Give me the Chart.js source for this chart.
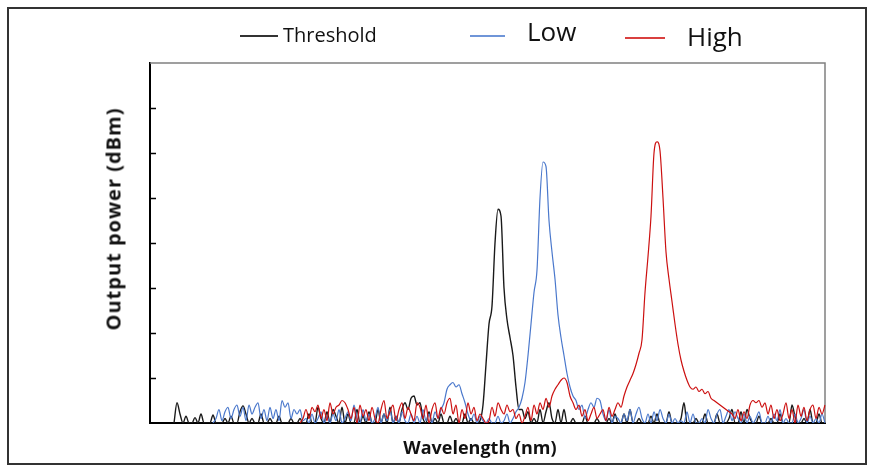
<!DOCTYPE html>
<html lang="en">
<head>
    <meta charset="UTF-8">
    <title>Output power vs wavelength</title>
    <script src="https://cdn.jsdelivr.net/npm/chart.js"></script>
    <style>
        body {
            margin: 0;
            width: 871px;
            height: 466px;
            background: #fff;
            font-family: "Open Sans", Arial, sans-serif;
            position: relative;
            overflow: hidden;
        }
        .frame {
            position: absolute;
            left: 7px;
            top: 7px;
            width: 860px;
            height: 458px;
            box-sizing: border-box;
            border: 2px solid #333;
        }
        #chart {
            position: absolute;
            left: 0;
            top: 0;
        }
        .legend-line {
            position: absolute;
            height: 1.5px;
        }
        .legend-text {
            position: absolute;
            line-height: 1;
            color: #111;
            white-space: nowrap;
        }
        .axis-title {
            position: absolute;
            font-weight: bold;
            color: #111;
            white-space: nowrap;
        }
    </style>
</head>
<body>
    <div class="frame"></div>
    <canvas id="chart" width="871" height="466"></canvas>

    <!-- legend -->
    <div class="legend-line" style="left:240px; top:35px; width:38px; background:#333;"></div>
    <div class="legend-text" style="left:283px; top:25px; font-size:20px;">Threshold</div>
    <div class="legend-line" style="left:470px; top:35px; width:35px; background:#6f95d8;"></div>
    <div class="legend-text" style="left:527px; top:18px; font-size:26px;">Low</div>
    <div class="legend-line" style="left:625px; top:37px; width:40px; background:#d9403f;"></div>
    <div class="legend-text" style="left:687px; top:23px; font-size:26px;">High</div>

    <div class="axis-title" style="left:480px; top:447px; font-size:18px; transform:translate(-50%, -50%);">Wavelength (nm)</div>
    <div class="axis-title" style="left:113px; top:219px; font-size:20px; letter-spacing:1px; transform:translate(-50%, -50%) rotate(-90deg);">Output power (dBm)</div>

    <script>
        // spectra (arbitrary dBm scale 0..8)
        const threshold = [
            null, null, null, null, null, null, null, null, 0, 0.45,
            0.2, 0, 0.15, 0, 0, 0.12, 0, 0.2, 0, 0,
            0, 0.18, 0, 0, 0, 0.1, 0, 0.15, 0, 0,
            0.25, 0.38, 0.2, 0, 0.1, 0, 0, 0.2, 0, 0,
            0.1, 0, 0, 0.15, 0, 0, 0, 0.1, 0, 0,
            0.1, 0, 0, 0.2, 0, 0, 0.35, 0.1, 0, 0.25,
            0, 0.3, 0.15, 0, 0.35, 0, 0.2, 0, 0, 0.3,
            0, 0.15, 0, 0.25, 0, 0, 0.3, 0, 0.2, 0,
            0.35, 0, 0.15, 0, 0.3, 0.45, 0.3, 0.55, 0.6, 0.4,
            0.45, 0.1, 0, 0.25, 0, 0.1, 0, 0.2, 0, 0,
            0.15, 0, 0.1, 0, 0, 0.2, 0, 0.1, 0, 0,
            0.05, 0.4, 1.3, 2.2, 2.6, 4.0, 4.75, 4.6, 3.0, 2.3,
            1.9, 1.5, 0.8, 0.3, 0.3, 0.1, 0.25, 0, 0.1, 0,
            0.3, 0, 0.25, 0.45, 0.1, 0, 0.3, 0, 0.3, 0,
            0, 0.1, 0, 0, 0, 0.15, 0, 0, 0, 0.1,
            0, 0, 0, 0.1, 0, 0.2, 0, 0, 0.2, 0,
            0.3, 0, 0, 0.1, 0, 0, 0, 0.15, 0, 0.2,
            0, 0, 0, 0.25, 0, 0, 0, 0.1, 0.45, 0,
            0, 0, 0.1, 0, 0, 0.2, 0, 0, 0, 0.2,
            0, 0, 0, 0.1, 0.3, 0, 0, 0.25, 0, 0.3,
            0.1, 0, 0, 0.15, 0, 0, 0, 0.1, 0, 0,
            0.2, 0, 0, 0, 0.4, 0.15, 0, 0, 0.1, 0,
            0.3, 0, 0, 0.2, 0, 0
        ];

        const low = [
            null, null, null, null, null, null, null, null, null, null,
            null, null, null, null, null, null, null, null, null, null,
            null, 0, 0.1, 0.3, 0.05, 0.25, 0.35, 0.1, 0.3, 0.4,
            0.15, 0.35, 0.05, 0.4, 0.2, 0.35, 0.45, 0.1, 0.3, 0.05,
            0.35, 0.1, 0.3, 0.05, 0.5, 0.35, 0.45, 0.1, 0.3, 0.2,
            0.3, 0.05, 0.1, 0, 0.2, 0, 0.1, 0.25, 0, 0.15,
            0, 0.2, 0.05, 0.3, 0, 0.1, 0.25, 0.05, 0.4, 0.1,
            0, 0.3, 0.05, 0.2, 0, 0.1, 0.35, 0, 0.2, 0.05,
            0.3, 0, 0.15, 0, 0.25, 0.05, 0, 0.2, 0, 0.15,
            0, 0.3, 0.05, 0.2, 0, 0.25, 0.1, 0.3, 0.45, 0.75,
            0.85, 0.9, 0.8, 0.85, 0.65, 0.45, 0.2, 0.05, 0.2, 0,
            0.15, 0.05, 0, 0.1, 0, 0, 0.15, 0, 0.05, 0.2,
            0, 0.1, 0.25, 0.35, 0.55, 0.9, 1.5, 2.2, 2.9, 3.4,
            5.0, 5.8, 5.7, 4.5, 3.8, 3.2, 2.4, 1.9, 1.5, 1.1,
            0.8, 0.6, 0.5, 0.3, 0.4, 0.1, 0.3, 0.45, 0.35, 0.55,
            0.5, 0.2, 0.05, 0.3, 0, 0.15, 0.1, 0, 0.2, 0.05,
            0.3, 0, 0.2, 0.35, 0.1, 0, 0.2, 0, 0.25, 0.05,
            0.3, 0.1, 0, 0.2, 0, 0.1, 0, 0.05, 0, 0.25,
            0, 0.2, 0, 0, 0.1, 0, 0.3, 0.1, 0, 0.2,
            0.3, 0, 0.15, 0.3, 0.05, 0.25, 0.1, 0, 0.2, 0,
            0.15, 0, 0.1, 0.25, 0, 0, 0.15, 0, 0.2, 0.05,
            0.3, 0, 0.1, 0, 0, 0.2, 0, 0.1, 0.3, 0,
            0.15, 0, 0.1, 0, 0.2, 0
        ];

        const high = [
            null, null, null, null, null, null, null, null, null, null,
            null, null, null, null, null, null, null, null, null, null,
            null, null, null, null, null, null, null, null, null, null,
            null, null, null, null, null, null, null, null, null, null,
            null, null, null, null, null, null, null, null, null, null,
            0, 0.1, 0.3, 0.1, 0.35, 0.25, 0.4, 0.1, 0.3, 0.05,
            0.45, 0.2, 0.35, 0.4, 0.5, 0.45, 0.3, 0.1, 0.35, 0,
            0.4, 0.15, 0.3, 0.05, 0.35, 0.1, 0, 0.3, 0.5, 0.1,
            0.25, 0.4, 0.05, 0.3, 0.45, 0.1, 0.35, 0.2, 0.05, 0.45,
            0.35, 0.1, 0.4, 0, 0.3, 0.45, 0.1, 0.35, 0.2, 0.45,
            0.55, 0.2, 0.4, 0, 0.3, 0.1, 0.45, 0.2, 0.35, 0.05,
            0.2, 0.1, 0, 0.05, 0.35, 0.15, 0.45, 0.3, 0.2, 0.4,
            0.25, 0.3, 0.1, 0.2, 0, 0.15, 0.35, 0.05, 0.4, 0.2,
            0.45, 0.3, 0.55, 0.35, 0.6, 0.75, 0.85, 0.95, 1.0, 0.9,
            0.6, 0.45, 0.3, 0.4, 0.15, 0.3, 0.05, 0.2, 0.35, 0.1,
            0.2, 0.3, 0.05, 0.35, 0.15, 0.3, 0.45, 0.35, 0.6, 0.8,
            0.95, 1.1, 1.3, 1.55, 1.85, 2.9, 3.7, 4.6, 6.0, 6.25,
            6.05, 5.0, 3.8, 3.2, 2.7, 2.2, 1.75, 1.4, 1.15, 0.95,
            0.8, 0.75, 0.8, 0.7, 0.75, 0.65, 0.7, 0.55, 0.5, 0.45,
            0.4, 0.35, 0.3, 0.25, 0.2, 0.1, 0.3, 0.05, 0.25, 0.1,
            0.4, 0.5, 0.45, 0.5, 0.35, 0.45, 0.2, 0.4, 0.1, 0.3,
            0.05, 0.2, 0.45, 0.1, 0.3, 0, 0.4, 0.15, 0.35, 0.05,
            0.3, 0.4, 0.1, 0.35, 0.2, 0.4
        ];

        // sample index along the wavelength axis (no tick labels shown)
        const wavelength = threshold.map((_, i) => i);
        const yTicks = [1, 2, 3, 4, 5, 6, 7];

        // top/right grey frame + inward tick marks on the y axis
        const framePlugin = {
            id: 'frame',
            beforeDatasetsDraw(chart) {
                const { ctx, chartArea: a } = chart;
                ctx.save();
                ctx.strokeStyle = '#808080';
                ctx.lineWidth = 1.5;
                ctx.beginPath();
                ctx.moveTo(a.left, a.top);
                ctx.lineTo(a.right, a.top);
                ctx.lineTo(a.right, a.bottom);
                ctx.stroke();
                ctx.restore();
            },
            afterDraw(chart) {
                const { ctx, chartArea: a, scales } = chart;
                ctx.save();
                ctx.strokeStyle = '#000';
                ctx.lineWidth = 1.5;
                yTicks.forEach(v => {
                    const y = Math.round(scales.y.getPixelForValue(v)) + 0.5;
                    ctx.beginPath();
                    ctx.moveTo(a.left, y);
                    ctx.lineTo(a.left + 6, y);
                    ctx.stroke();
                });
                ctx.restore();
            }
        };

        new Chart(document.getElementById('chart').getContext('2d'), {
            type: 'line',
            data: {
                labels: wavelength,
                datasets: [
                    { label: 'Threshold', data: threshold, borderColor: '#1a1a1a', borderWidth: 1.4, order: 3 },
                    { label: 'Low', data: low, borderColor: '#4a78cc', order: 2 },
                    { label: 'High', data: high, borderColor: '#cc1010', order: 1 }
                ]
            },
            options: {
                responsive: false,
                animation: false,
                devicePixelRatio: 1,
                layout: { padding: { left: 150, right: 46, top: 63, bottom: 43 } },
                elements: {
                    point: { radius: 0 },
                    line: { borderWidth: 1.2, cubicInterpolationMode: 'monotone' }
                },
                plugins: {
                    legend: { display: false },
                    tooltip: { enabled: false }
                },
                scales: {
                    x: {
                        type: 'category',
                        offset: false,
                        grid: { display: false, drawTicks: false },
                        ticks: { display: false },
                        border: { display: true, color: '#000', width: 2 }
                    },
                    y: {
                        min: 0,
                        max: 8,
                        grid: { display: false, drawTicks: false },
                        ticks: { display: false, stepSize: 1 },
                        border: { display: true, color: '#000', width: 2 }
                    }
                }
            },
            plugins: [framePlugin]
        });
    </script>
</body>
</html>
